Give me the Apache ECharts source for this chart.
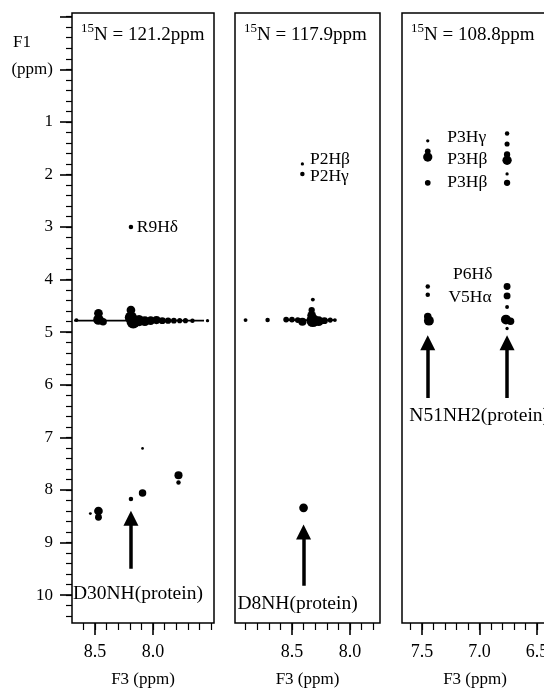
<!DOCTYPE html>
<html>
<head>
<meta charset="utf-8">
<script src="https://cdn.jsdelivr.net/npm/echarts@6/dist/echarts.min.js"></script>
<style>
  html, body { margin: 0; padding: 0; background: #fff; }
  #chart { width: 544px; height: 692px; }
</style>
</head>
<body>
<div id="chart"></div>
<script>
// strip titles (15N plane) and F3 window of each strip, ppm
var stripTitles = ['121.2ppm', '117.9ppm', '108.8ppm'];
var stripF3Range = [[7.474, 8.698], [7.741, 8.991], [6.404, 7.674]];
var f1Range = [-1.07, 10.53];

// tick labels
var f3Ticks = [[8.5, 8.0], [8.5, 8.0], [7.5, 7.0, 6.5]];
var f1Ticks = [-1, 0, 1, 2, 3, 4, 5, 6, 7, 8, 9, 10];
var f1Labels = [0, 1, 2, 3, 4, 5, 6, 7, 8, 9, 10];

// cross peaks: [F3, F1, intensity]
var peaks121 = [
  [8.66, 4.77, 2], [8.47, 4.64, 6], [8.47, 4.76, 7.5], [8.43, 4.80, 5],
  [8.19, 4.58, 6], [8.19, 4.72, 9], [8.17, 4.80, 10], [8.12, 4.78, 8], [8.07, 4.79, 7],
  [8.02, 4.78, 6], [7.97, 4.77, 5.5], [7.92, 4.78, 4.5], [7.87, 4.78, 4], [7.82, 4.78, 3.5],
  [7.77, 4.78, 3], [7.72, 4.78, 3], [7.66, 4.78, 2.5], [7.53, 4.78, 1.5],
  [8.19, 3.00, 2.5],
  [8.47, 8.40, 6], [8.47, 8.52, 4.5], [8.54, 8.45, 1.2],
  [8.19, 8.17, 2.5], [8.09, 8.06, 5], [7.78, 7.72, 5.5], [7.78, 7.86, 2.5], [8.09, 7.21, 1]
];
var ridge121 = [[8.68, 4.78], [7.56, 4.78]];

var peaks117 = [
  [8.41, 1.80, 1.5], [8.41, 1.99, 2.5],
  [8.90, 4.77, 2], [8.71, 4.77, 2.5], [8.55, 4.76, 3.5], [8.50, 4.76, 3.5], [8.45, 4.77, 3.5],
  [8.41, 4.80, 5.5], [8.33, 4.58, 4], [8.33, 4.68, 6], [8.32, 4.78, 9.5], [8.27, 4.79, 7],
  [8.22, 4.78, 4.5], [8.17, 4.77, 3], [8.13, 4.77, 2],
  [8.32, 4.38, 2],
  [8.40, 8.34, 6]
];
var ridge117 = [[8.57, 4.77], [8.12, 4.77]];

var peaks108 = [
  [7.45, 1.36, 1.5], [7.45, 1.56, 3.5], [7.45, 1.67, 6.5], [7.45, 2.16, 3.5],
  [7.45, 4.13, 2.5], [7.45, 4.29, 2.5], [7.45, 4.70, 5], [7.44, 4.78, 7],
  [6.76, 1.22, 2.5], [6.76, 1.42, 3], [6.76, 1.62, 4], [6.76, 1.73, 6.5], [6.76, 1.99, 1.5],
  [6.76, 2.16, 4],
  [6.76, 4.13, 4.5], [6.76, 4.31, 4.5], [6.76, 4.52, 2], [6.77, 4.76, 7], [6.73, 4.79, 5],
  [6.76, 4.93, 1.5]
];

// peak labels: [F3 at text start, F1, text]
var labels121 = [[8.14, 3.00, 'R9Hδ'], [8.69, 9.97, 'D30NH(protein)']];
var labels117 = [[8.345, 1.72, 'P2Hβ'], [8.345, 2.04, 'P2Hγ'], [8.97, 10.16, 'D8NH(protein)']];
var labels108 = [
  [7.28, 1.29, 'P3Hγ'], [7.28, 1.72, 'P3Hβ'], [7.28, 2.16, 'P3Hβ'],
  [7.23, 3.91, 'P6Hδ'], [7.27, 4.33, 'V5Hα'], [7.61, 6.59, 'N51NH2(protein)']
];

// arrows: [F3, F1 tail, F1 of head centre]
var arrows121 = [[8.19, 9.50, 8.54]];
var arrows117 = [[8.40, 9.82, 8.80]];
var arrows108 = [[7.45, 6.25, 5.20], [6.76, 6.25, 5.20]];

var panels = [
  {peaks: peaks121, ridge: ridge121, labels: labels121, arrows: arrows121},
  {peaks: peaks117, ridge: ridge117, labels: labels117, arrows: arrows117},
  {peaks: peaks108, ridge: [], labels: labels108, arrows: arrows108}
];

var FONT = 'Liberation Serif';
var gridLeft = [72, 235, 402];
var gridWidth = [142, 145, 146];

function minorTicks(lo, hi, step) {
  var out = [];
  var v = Math.ceil(lo / step - 1e-6) * step;
  for (; v <= hi + 1e-6; v += step) out.push(Math.round(v * 10) / 10);
  return out;
}

var grids = [], xAxes = [], yAxes = [], series = [], titles = [];

panels.forEach(function (p, i) {
  var r = stripF3Range[i];
  grids.push({
    left: gridLeft[i], top: 13, width: gridWidth[i], height: 610,
    outerBoundsMode: 'none', containLabel: false,
    show: true, borderColor: '#000', borderWidth: 1.5, backgroundColor: 'transparent'
  });
  xAxes.push({
    type: 'value', gridIndex: i, min: r[0], max: r[1], inverse: true, position: 'bottom',
    axisLine: {show: false, onZero: false}, splitLine: {show: false},
    axisTick: {customValues: f3Ticks[i], length: 12, lineStyle: {color: '#000', width: 1.6}},
    axisLabel: {
      customValues: f3Ticks[i], margin: 20, color: '#000', fontSize: 18, fontFamily: FONT,
      formatter: function (v) { return v.toFixed(1); }
    },
    name: 'F3 (ppm)', nameLocation: 'middle', nameGap: 48,
    nameTextStyle: {color: '#000', fontSize: 17, fontFamily: FONT}
  });
  xAxes.push({
    type: 'value', gridIndex: i, min: r[0], max: r[1], inverse: true, position: 'bottom',
    axisLine: {show: false, onZero: false}, splitLine: {show: false}, axisLabel: {show: false},
    axisTick: {customValues: minorTicks(r[0], r[1], 0.1), length: 7, lineStyle: {color: '#000', width: 1.2}}
  });

  titles.push({
    left: gridLeft[i] + 4, top: 17,
    text: '{s|15}{n|N = ' + stripTitles[i] + '}',
    textStyle: {
      fontWeight: 'normal',
      rich: {
        s: {fontSize: 13, lineHeight: 13, verticalAlign: 'top', fontFamily: FONT, color: '#000', fontWeight: 'normal'},
        n: {fontSize: 19, lineHeight: 23, verticalAlign: 'bottom', fontFamily: FONT, color: '#000', fontWeight: 'normal'}
      }
    }
  });
});

// F1 axis, drawn only on the first strip
yAxes.push({
  type: 'value', gridIndex: 0, min: f1Range[0], max: f1Range[1], inverse: true, position: 'left',
  axisLine: {show: false, onZero: false}, splitLine: {show: false},
  axisTick: {customValues: f1Ticks, length: 12, lineStyle: {color: '#000', width: 1.6}},
  axisLabel: {
    customValues: f1Labels, margin: 19, color: '#000', fontSize: 17, fontFamily: FONT,
    formatter: function (v) { return v === 0 ? '(ppm)' : String(v); }
  }
});
yAxes.push({
  type: 'value', gridIndex: 0, min: f1Range[0], max: f1Range[1], inverse: true, position: 'left',
  axisLine: {show: false, onZero: false}, splitLine: {show: false}, axisLabel: {show: false},
  axisTick: {customValues: minorTicks(f1Range[0], f1Range[1], 0.2), length: 6, lineStyle: {color: '#000', width: 1.2}}
});
yAxes.push({type: 'value', gridIndex: 1, min: f1Range[0], max: f1Range[1], inverse: true, show: false});
yAxes.push({type: 'value', gridIndex: 2, min: f1Range[0], max: f1Range[1], inverse: true, show: false});
var yIdx = [0, 2, 3];

panels.forEach(function (p, i) {
  var xi = 2 * i, yi = yIdx[i];
  if (p.ridge.length) {
    series.push({
      type: 'line', xAxisIndex: xi, yAxisIndex: yi, data: p.ridge, symbol: 'none',
      lineStyle: {color: '#000', width: 1.6}, silent: true, z: 2
    });
  }
  series.push({
    type: 'scatter', xAxisIndex: xi, yAxisIndex: yi, data: p.peaks,
    symbolSize: function (v) { return 1.5 + v[2] * 1.2; },
    itemStyle: {color: '#000', opacity: 1}, silent: true, z: 3
  });
  series.push({
    type: 'lines', coordinateSystem: 'cartesian2d', xAxisIndex: xi, yAxisIndex: yi,
    data: p.arrows.map(function (a) { return {coords: [[a[0], a[1]], [a[0], a[2]]]}; }),
    symbol: ['none', 'triangle'], symbolSize: 15,
    lineStyle: {color: '#000', width: 3.5, opacity: 1}, silent: true, z: 3
  });
  series.push({
    type: 'scatter', xAxisIndex: xi, yAxisIndex: yi, silent: true, z: 4,
    symbolSize: 0, itemStyle: {color: '#000', opacity: 1},
    data: p.labels.map(function (l) {
      // the "(protein)" captions are set a size larger in the figure
      var big = l[2].indexOf('(protein)') >= 0;
      return {value: l, label: {fontSize: big ? 19.5 : 17.5}};
    }),
    label: {
      show: true, position: 'right', distance: 0, color: '#000', opacity: 1,
      fontSize: 17.5, fontFamily: FONT,
      formatter: function (q) { return q.value[2]; }
    }
  });
});

var chart = echarts.init(document.getElementById('chart'), null, {renderer: 'canvas'});
chart.setOption({
  backgroundColor: '#fff',
  animation: false,
  title: titles,
  grid: grids,
  xAxis: xAxes,
  yAxis: yAxes,
  series: series,
  graphic: [{
    type: 'text', left: 13, top: 34,
    style: {text: 'F1', fontSize: 17, fontFamily: FONT, fill: '#000'}
  }]
});
</script>
</body>
</html>
